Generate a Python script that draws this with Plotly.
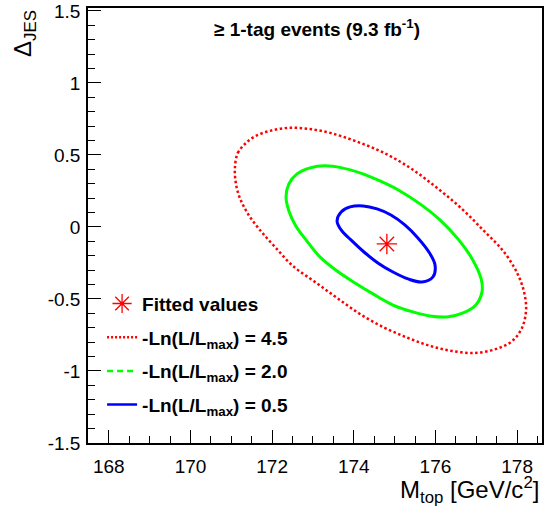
import plotly.graph_objects as go

# Contour: -Ln(L/Lmax) = 4.5 (red, dotted)
red_x = [171.09, 171.16, 171.36, 171.60, 171.95, 172.39, 172.88, 173.42, 174.03, 174.69,
         175.38, 176.04, 176.65, 177.19, 177.66, 178.00, 178.17, 178.22, 178.12, 177.88,
         177.49, 176.97, 176.41, 175.87, 175.33, 174.76, 174.15, 173.59, 173.05, 172.51,
         172.07, 171.70, 171.41, 171.21, 171.11, 171.09]
red_y = [0.417, 0.514, 0.583, 0.632, 0.667, 0.688, 0.681, 0.653, 0.597, 0.521,
         0.410, 0.271, 0.125, -0.028, -0.167, -0.319, -0.451, -0.576, -0.701, -0.792,
         -0.847, -0.875, -0.861, -0.826, -0.771, -0.701, -0.604, -0.493, -0.382, -0.271,
         -0.139, -0.021, 0.090, 0.201, 0.306, 0.417]

# Contour: -Ln(L/Lmax) = 2.0 (green)
green_x = [172.34, 172.41, 172.61, 172.93, 173.29, 173.71, 174.15, 174.64, 175.13, 175.62,
           176.11, 176.55, 176.90, 177.12, 177.14, 176.99, 176.68, 176.28, 175.87, 175.45,
           174.96, 174.47, 174.03, 173.59, 173.17, 172.83, 172.58, 172.41, 172.34]
green_y = [0.208, 0.299, 0.368, 0.410, 0.424, 0.410, 0.375, 0.319, 0.250, 0.160,
           0.049, -0.083, -0.222, -0.361, -0.451, -0.542, -0.597, -0.625, -0.618, -0.590,
           -0.542, -0.465, -0.389, -0.306, -0.208, -0.090, 0.007, 0.111, 0.208]

# Contour: -Ln(L/Lmax) = 0.5 (blue)
blue_x = [173.59, 173.69, 173.91, 174.23, 174.57, 174.91, 175.25, 175.57, 175.84, 175.99,
          175.94, 175.67, 175.33, 174.96, 174.59, 174.25, 173.93, 173.69, 173.59]
blue_y = [0.042, 0.104, 0.139, 0.146, 0.125, 0.083, 0.014, -0.076, -0.174, -0.264,
          -0.347, -0.382, -0.361, -0.313, -0.250, -0.174, -0.090, -0.021, 0.042]

# Fitted values
fit_x = [174.81]
fit_y = [-0.118]

x_ticks = [168, 170, 172, 174, 176, 178]
y_ticks = [-1.5, -1, -0.5, 0, 0.5, 1, 1.5]
y_ticklabels = ["-1.5", "-1", "-0.5", "0", "0.5", "1", "1.5"]

legend_labels = ["Fitted values",
                 "-Ln(L/L<sub>max</sub>) = 4.5",
                 "-Ln(L/L<sub>max</sub>) = 2.0",
                 "-Ln(L/L<sub>max</sub>) = 0.5"]

RED = "#ff0000"
GREEN = "#00ff00"
BLUE = "#0000ff"
FONT = "Liberation Sans, Arial, Helvetica, sans-serif"

fig = go.Figure()

# drawn contours
fig.add_trace(go.Scatter(x=red_x, y=red_y, mode="lines", showlegend=False,
                         line=dict(color=RED, width=2.5, dash="2.5px,2.5px", shape="spline", smoothing=1.0)))
fig.add_trace(go.Scatter(x=green_x, y=green_y, mode="lines", showlegend=False,
                         line=dict(color=GREEN, width=3, shape="spline", smoothing=1.0)))
fig.add_trace(go.Scatter(x=blue_x, y=blue_y, mode="lines", showlegend=False,
                         line=dict(color=BLUE, width=3, shape="spline", smoothing=1.0)))
fig.add_trace(go.Scatter(x=fit_x, y=fit_y, mode="markers", showlegend=False,
                         marker=dict(symbol="asterisk-open", size=17, color=RED,
                                     line=dict(color=RED, width=1.3))))

# legend entries
fig.add_trace(go.Scatter(x=[None], y=[None], mode="markers", name="<b>" + legend_labels[0] + "</b>",
                         legendgroup="a",
                         marker=dict(symbol="asterisk-open", size=17, color=RED,
                                     line=dict(color=RED, width=1.3))))
fig.add_trace(go.Scatter(x=[None], y=[None], mode="lines", name="<b>" + legend_labels[1] + "</b>",
                         legendgroup="b", line=dict(color=RED, width=2.5, dash="2px,2px")))
fig.add_trace(go.Scatter(x=[None], y=[None], mode="lines", name="<b>" + legend_labels[2] + "</b>",
                         legendgroup="c", line=dict(color=GREEN, width=2.5, dash="6px,4px")))
fig.add_trace(go.Scatter(x=[None], y=[None], mode="lines", name="<b>" + legend_labels[3] + "</b>",
                         legendgroup="d", line=dict(color=BLUE, width=2.5)))

fig.update_layout(
    width=550, height=514,
    margin=dict(l=88, r=8, t=8, b=71),
    paper_bgcolor="white", plot_bgcolor="white",
    font=dict(family=FONT, color="black"),
    showlegend=True,
    legend=dict(x=0.031, y=0.364, xanchor="left", yanchor="top",
                bgcolor="rgba(0,0,0,0)", borderwidth=0,
                font=dict(family=FONT, size=19, color="black"),
                tracegroupgap=6, itemwidth=30),
    annotations=[
        dict(text="<b>≥ 1-tag events (9.3 fb<sup>-1</sup>)</b>", x=0.505, y=0.955,
             xref="paper", yref="paper", xanchor="center", yanchor="middle",
             showarrow=False, font=dict(family=FONT, size=19, color="black")),
        dict(text="Δ<sub>JES</sub>", x=-0.14, y=1.0, xref="paper", yref="paper",
             xanchor="center", yanchor="top", textangle=-90, showarrow=False,
             font=dict(family=FONT, size=24, color="black")),
        dict(text="M<sub>top</sub> [GeV/c<sup>2</sup>]", x=0.998, y=-0.108,
             xref="paper", yref="paper", xanchor="right", yanchor="middle",
             showarrow=False, font=dict(family=FONT, size=24, color="black")),
    ],
)

fig.update_xaxes(range=[167.49, 178.61], tickvals=x_ticks, ticktext=[str(v) for v in x_ticks],
                 ticks="inside", ticklen=13, tickwidth=1, tickcolor="black",
                 minor=dict(dtick=0.5, ticks="inside", ticklen=7, tickwidth=1, tickcolor="black"),
                 showline=True, linecolor="black", linewidth=1.5, mirror=True,
                 showgrid=False, zeroline=False, automargin=False,
                 tickfont=dict(family=FONT, size=19, color="black"), ticklabelstandoff=5)
fig.update_yaxes(range=[-1.5, 1.52], tickvals=y_ticks, ticktext=y_ticklabels,
                 ticks="inside", ticklen=13, tickwidth=1, tickcolor="black",
                 minor=dict(dtick=0.1, ticks="inside", ticklen=7, tickwidth=1, tickcolor="black"),
                 showline=True, linecolor="black", linewidth=1.5, mirror=True,
                 showgrid=False, zeroline=False, automargin=False,
                 tickfont=dict(family=FONT, size=19, color="black"), ticklabelstandoff=2)

fig.write_html("out.html", config={"displayModeBar": False},
               post_script="document.body.style.margin='0';document.body.style.overflow='hidden';")
